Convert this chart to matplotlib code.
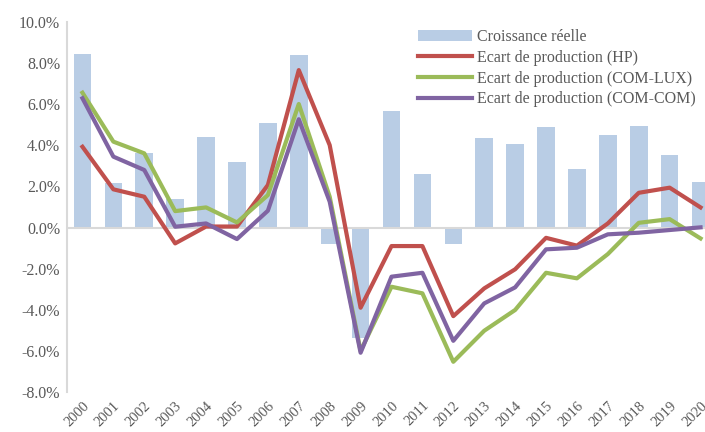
import matplotlib
matplotlib.use("Agg")
import matplotlib.pyplot as plt
from matplotlib.ticker import FuncFormatter
import numpy as np

years = [str(y) for y in range(2000, 2021)]
croissance = [8.44, 2.17, 3.63, 1.39, 4.40, 3.20, 5.10, 8.39, -0.82, -5.36, 5.67,
              2.60, -0.82, 4.36, 4.06, 4.89, 2.85, 4.50, 4.94, 3.53, 2.23]
hp = [3.93, 1.86, 1.50, -0.77, 0.05, 0.05, 2.07, 7.66, 4.01, -3.90, -0.90,
      -0.90, -4.31, -2.96, -2.03, -0.50, -0.88, 0.20, 1.69, 1.94, 0.98]
com_lux = [6.56, 4.18, 3.61, 0.80, 0.98, 0.25, 1.58, 6.01, 1.50, -6.00, -2.88,
           -3.20, -6.53, -5.02, -4.01, -2.20, -2.47, -1.29, 0.23, 0.41, -0.53]
com_com = [6.29, 3.45, 2.80, 0.04, 0.20, -0.56, 0.82, 5.27, 1.26, -6.09, -2.39,
           -2.20, -5.51, -3.69, -2.91, -1.06, -0.98, -0.33, -0.25, -0.12, 0.01]
labels = ["Croissance réelle", "Ecart de production (HP)",
          "Ecart de production (COM-LUX)", "Ecart de production (COM-COM)"]

plt.rcParams['font.family'] = ['Liberation Serif', 'DejaVu Serif']
grey = '#595959'

fig = plt.figure(figsize=(7.05, 4.32), dpi=100)
ax = fig.add_axes([67/705, 40/432, (716-67)/705, (392-22)/432])

x = np.arange(len(years))
b = ax.bar(x, croissance, width=0.57, color='#B9CDE5', label=labels[0], zorder=1)
l1, = ax.plot(x, hp, color='#C0504D', lw=3, label=labels[1], zorder=3)
l2, = ax.plot(x, com_lux, color='#9BBB59', lw=3, label=labels[2], zorder=3)
l3, = ax.plot(x, com_com, color='#8064A2', lw=3, label=labels[3], zorder=3)

ax.axhline(0, color='#D9D9D9', lw=1.5, zorder=2)
ax.set_xlim(-0.5, len(years) - 0.5)
ax.set_ylim(-8, 10)
ax.set_yticks(np.arange(-8, 10.1, 2))
ax.yaxis.set_major_formatter(FuncFormatter(lambda v, p: f"{v:.1f}%"))
ax.set_xticks(x)
ax.set_xticklabels(years, rotation=45, ha='right', rotation_mode='anchor')

for s in ['top', 'right', 'bottom']:
    ax.spines[s].set_visible(False)
ax.spines['left'].set_color('#D9D9D9')
ax.spines['left'].set_linewidth(1.5)
ax.tick_params(axis='both', length=0, labelsize=11.5, labelcolor=grey)
ax.tick_params(axis='y', pad=5)
ax.tick_params(axis='x', pad=5, labelsize=10.5)

leg = ax.legend([b, l1, l2, l3], labels, loc='upper left',
                bbox_to_anchor=(418/705, 1 - 29/432),
                bbox_transform=fig.transFigure, frameon=False, fontsize=11.5,
                handlelength=3.4, handletextpad=0.3, labelspacing=0.3,
                borderpad=0, borderaxespad=0)
for t in leg.get_texts():
    t.set_color(grey)

fig.savefig("out.png", dpi=100)
